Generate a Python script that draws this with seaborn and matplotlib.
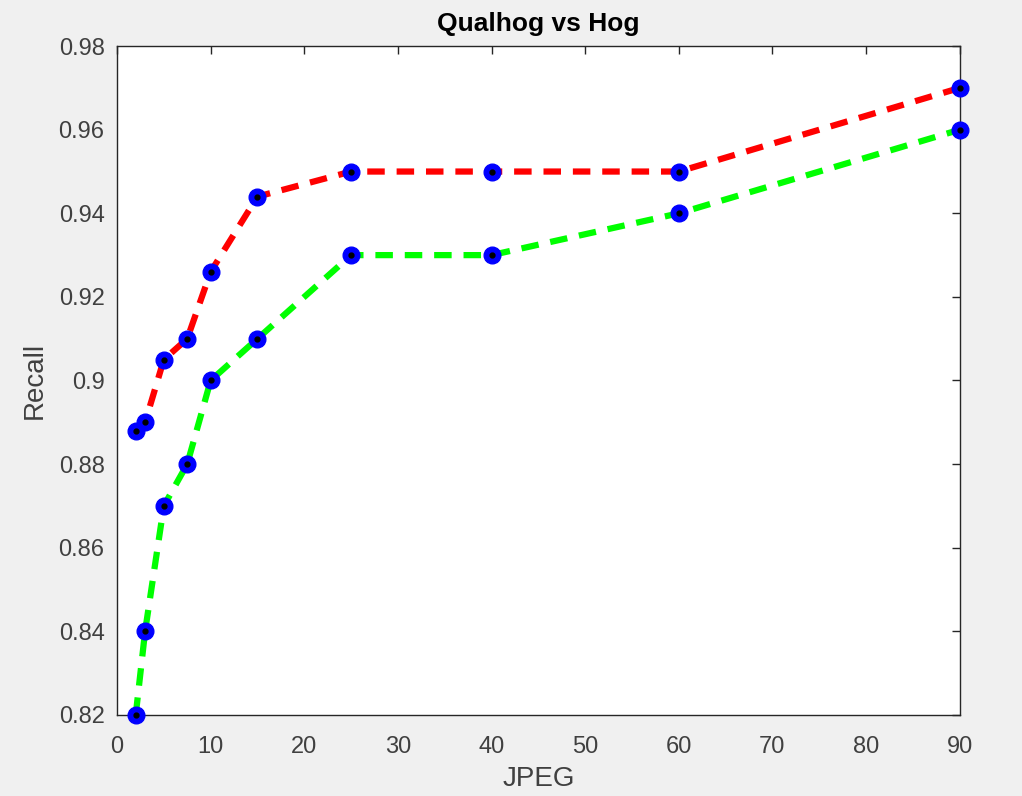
import matplotlib.pyplot as plt
import seaborn as sns
import pandas as pd

# JPEG quality levels and recall values
jpeg = [2, 3, 5, 7.5, 10, 15, 25, 40, 60, 90]
recall_qualhog = [0.888, 0.890, 0.905, 0.910, 0.926, 0.944, 0.950, 0.950, 0.950, 0.970]
recall_hog = [0.820, 0.840, 0.870, 0.880, 0.900, 0.910, 0.930, 0.930, 0.940, 0.960]
x_ticks = [0, 10, 20, 30, 40, 50, 60, 70, 80, 90]
y_ticks = [0.82, 0.84, 0.86, 0.88, 0.90, 0.92, 0.94, 0.96, 0.98]
y_tick_labels = ['0.82', '0.84', '0.86', '0.88', '0.9', '0.92', '0.94', '0.96', '0.98']

sns.set_style("white")
plt.rcParams['font.family'] = ['Liberation Sans', 'DejaVu Sans']

df = pd.DataFrame({'JPEG': jpeg, 'Qualhog': recall_qualhog, 'Hog': recall_hog})

fig = plt.figure(figsize=(10.22, 7.96), dpi=100, facecolor='#f0f0f0')
ax = fig.add_axes([0.1145, 0.102, 0.8245, 0.840])
ax.set_facecolor('white')

for col, color in [('Qualhog', '#ff0000'), ('Hog', '#00ff00')]:
    sns.lineplot(data=df, x='JPEG', y=col, ax=ax, color=color, linewidth=4.5,
                 linestyle=(0, (2.8, 1.9)), zorder=2)
    # blue markers with a small black centre dot
    ax.plot(df['JPEG'], df[col], linestyle='none', marker='o', markersize=12,
            markerfacecolor='#0000ff', markeredgecolor='#0000ff', zorder=3, clip_on=False)
    ax.plot(df['JPEG'], df[col], linestyle='none', marker='o', markersize=3.5,
            color='black', zorder=4, clip_on=False)

ax.set_xlim(0, 90)
ax.set_ylim(0.82, 0.98)
ax.set_xticks(x_ticks)
ax.set_yticks(y_ticks)
ax.set_yticklabels(y_tick_labels)
ax.tick_params(direction='in', length=6, width=1, top=True, right=True,
               labelsize=17, colors='#262626', labelcolor='#404040', pad=9)
ax.tick_params(axis='x', pad=15)
for s in ax.spines.values():
    s.set_color('#262626')
    s.set_linewidth(1)

ax.set_xlabel('JPEG', fontsize=20, color='#404040', labelpad=6)
ax.set_ylabel('Recall', fontsize=20, color='#404040', labelpad=8)
ax.set_title('Qualhog vs Hog', fontsize=19, fontweight='bold', color='black', pad=11)

fig.savefig('out.png', dpi=100, facecolor=fig.get_facecolor())
